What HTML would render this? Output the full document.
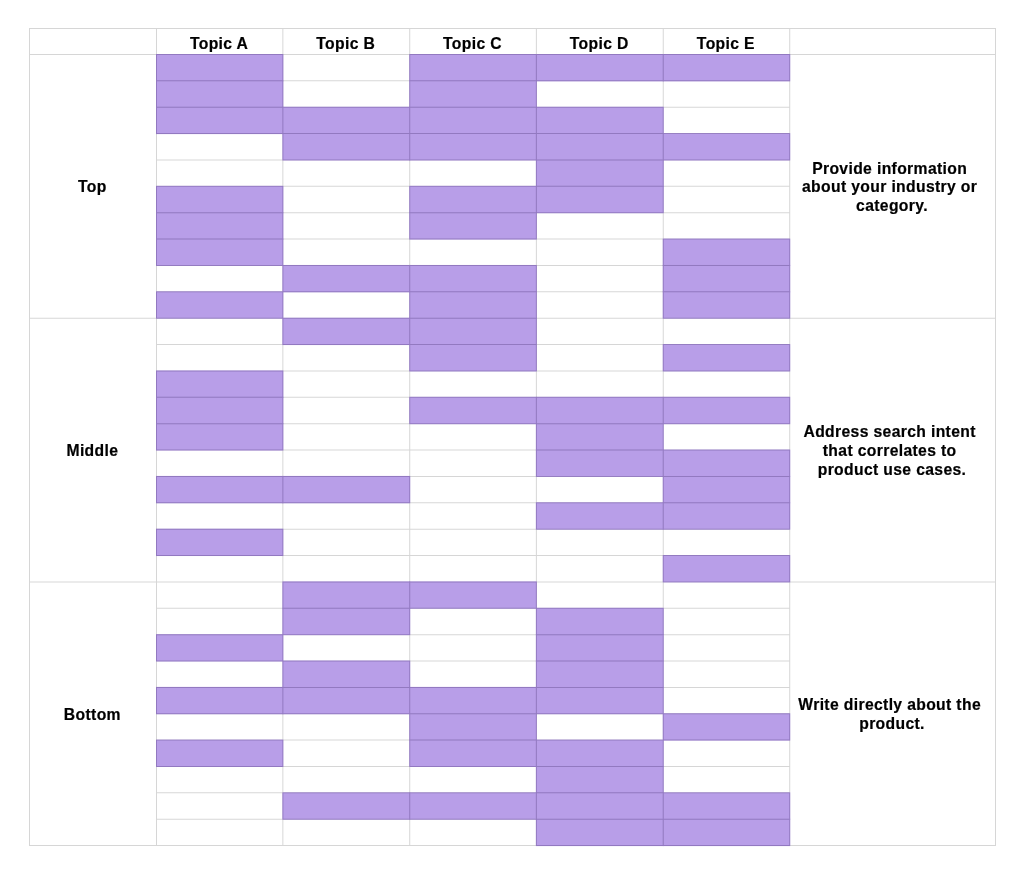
<!DOCTYPE html>
<html><head><meta charset="utf-8"><style>
html,body{margin:0;padding:0;background:#fff;width:1024px;height:875px;overflow:hidden}
svg{display:block}
text{font-family:"Liberation Sans",sans-serif;font-weight:bold;font-size:15.7px;letter-spacing:0.36px;fill:#000;stroke:#000;stroke-width:0.2px;text-anchor:middle}
</style></head><body>
<svg width="1024" height="875" viewBox="0 0 1024 875">
<g fill="#b89ee8" shape-rendering="geometricPrecision">
<rect x="156.00" y="54.00" width="127.36" height="27.37"/>
<rect x="409.22" y="54.00" width="127.66" height="27.37"/>
<rect x="535.88" y="54.00" width="127.86" height="27.37"/>
<rect x="662.74" y="54.00" width="127.48" height="27.37"/>
<rect x="156.00" y="80.37" width="127.36" height="27.37"/>
<rect x="409.22" y="80.37" width="127.66" height="27.37"/>
<rect x="156.00" y="106.74" width="127.36" height="27.37"/>
<rect x="282.36" y="106.74" width="127.86" height="27.37"/>
<rect x="409.22" y="106.74" width="127.66" height="27.37"/>
<rect x="535.88" y="106.74" width="127.86" height="27.37"/>
<rect x="282.36" y="133.11" width="127.86" height="27.37"/>
<rect x="409.22" y="133.11" width="127.66" height="27.37"/>
<rect x="535.88" y="133.11" width="127.86" height="27.37"/>
<rect x="662.74" y="133.11" width="127.48" height="27.37"/>
<rect x="535.88" y="159.48" width="127.86" height="27.37"/>
<rect x="156.00" y="185.85" width="127.36" height="27.37"/>
<rect x="409.22" y="185.85" width="127.66" height="27.37"/>
<rect x="535.88" y="185.85" width="127.86" height="27.37"/>
<rect x="156.00" y="212.22" width="127.36" height="27.37"/>
<rect x="409.22" y="212.22" width="127.66" height="27.37"/>
<rect x="156.00" y="238.59" width="127.36" height="27.37"/>
<rect x="662.74" y="238.59" width="127.48" height="27.37"/>
<rect x="282.36" y="264.96" width="127.86" height="27.37"/>
<rect x="409.22" y="264.96" width="127.66" height="27.37"/>
<rect x="662.74" y="264.96" width="127.48" height="27.37"/>
<rect x="156.00" y="291.33" width="127.36" height="27.37"/>
<rect x="409.22" y="291.33" width="127.66" height="27.37"/>
<rect x="662.74" y="291.33" width="127.48" height="27.37"/>
<rect x="282.36" y="317.70" width="127.86" height="27.37"/>
<rect x="409.22" y="317.70" width="127.66" height="27.37"/>
<rect x="409.22" y="344.07" width="127.66" height="27.37"/>
<rect x="662.74" y="344.07" width="127.48" height="27.37"/>
<rect x="156.00" y="370.44" width="127.36" height="27.37"/>
<rect x="156.00" y="396.81" width="127.36" height="27.37"/>
<rect x="409.22" y="396.81" width="127.66" height="27.37"/>
<rect x="535.88" y="396.81" width="127.86" height="27.37"/>
<rect x="662.74" y="396.81" width="127.48" height="27.37"/>
<rect x="156.00" y="423.18" width="127.36" height="27.37"/>
<rect x="535.88" y="423.18" width="127.86" height="27.37"/>
<rect x="535.88" y="449.55" width="127.86" height="27.37"/>
<rect x="662.74" y="449.55" width="127.48" height="27.37"/>
<rect x="156.00" y="475.92" width="127.36" height="27.37"/>
<rect x="282.36" y="475.92" width="127.86" height="27.37"/>
<rect x="662.74" y="475.92" width="127.48" height="27.37"/>
<rect x="535.88" y="502.29" width="127.86" height="27.37"/>
<rect x="662.74" y="502.29" width="127.48" height="27.37"/>
<rect x="156.00" y="528.66" width="127.36" height="27.37"/>
<rect x="662.74" y="555.03" width="127.48" height="27.37"/>
<rect x="282.36" y="581.40" width="127.86" height="27.37"/>
<rect x="409.22" y="581.40" width="127.66" height="27.37"/>
<rect x="282.36" y="607.77" width="127.86" height="27.37"/>
<rect x="535.88" y="607.77" width="127.86" height="27.37"/>
<rect x="156.00" y="634.14" width="127.36" height="27.37"/>
<rect x="535.88" y="634.14" width="127.86" height="27.37"/>
<rect x="282.36" y="660.51" width="127.86" height="27.37"/>
<rect x="535.88" y="660.51" width="127.86" height="27.37"/>
<rect x="156.00" y="686.88" width="127.36" height="27.37"/>
<rect x="282.36" y="686.88" width="127.86" height="27.37"/>
<rect x="409.22" y="686.88" width="127.66" height="27.37"/>
<rect x="535.88" y="686.88" width="127.86" height="27.37"/>
<rect x="409.22" y="713.25" width="127.66" height="27.37"/>
<rect x="662.74" y="713.25" width="127.48" height="27.37"/>
<rect x="156.00" y="739.62" width="127.36" height="27.37"/>
<rect x="409.22" y="739.62" width="127.66" height="27.37"/>
<rect x="535.88" y="739.62" width="127.86" height="27.37"/>
<rect x="535.88" y="765.99" width="127.86" height="27.37"/>
<rect x="282.36" y="792.36" width="127.86" height="27.37"/>
<rect x="409.22" y="792.36" width="127.66" height="27.37"/>
<rect x="535.88" y="792.36" width="127.86" height="27.37"/>
<rect x="662.74" y="792.36" width="127.48" height="27.37"/>
<rect x="535.88" y="818.73" width="127.86" height="27.37"/>
<rect x="662.74" y="818.73" width="127.48" height="27.37"/>
</g>
<path fill="rgba(0,0,0,0.16)" d="M29 28h967v1h-967zM29 54h967v1h-967zM156 80.37h634.22v1h-634.22zM156 106.74h634.22v1h-634.22zM156 133.11h634.22v1h-634.22zM156 159.48h634.22v1h-634.22zM156 185.85h634.22v1h-634.22zM156 212.22h634.22v1h-634.22zM156 238.59h634.22v1h-634.22zM156 264.96h634.22v1h-634.22zM156 291.33h634.22v1h-634.22zM29 317.7h967v1h-967zM156 344.07h634.22v1h-634.22zM156 370.44h634.22v1h-634.22zM156 396.81h634.22v1h-634.22zM156 423.18h634.22v1h-634.22zM156 449.55h634.22v1h-634.22zM156 475.92h634.22v1h-634.22zM156 502.29h634.22v1h-634.22zM156 528.66h634.22v1h-634.22zM156 555.03h634.22v1h-634.22zM29 581.4h967v1h-967zM156 607.77h634.22v1h-634.22zM156 634.14h634.22v1h-634.22zM156 660.51h634.22v1h-634.22zM156 686.88h634.22v1h-634.22zM156 713.25h634.22v1h-634.22zM156 739.62h634.22v1h-634.22zM156 765.99h634.22v1h-634.22zM156 792.36h634.22v1h-634.22zM156 818.73h634.22v1h-634.22zM29 845.1h967v1h-967zM29 28h1v818.1h-1zM156 28h1v818.1h-1zM282.36 28h1v818.1h-1zM409.22 28h1v818.1h-1zM535.88 28h1v818.1h-1zM662.74 28h1v818.1h-1zM789.22 28h1v818.1h-1zM995 28h1v818.1h-1z"/>
<path fill="rgba(60,0,180,0.08)" d="M156 54h127.36v1h-127.36zM409.22 54h127.66v1h-127.66zM535.88 54h127.86v1h-127.86zM662.74 54h127.48v1h-127.48zM156 80.37h127.36v1h-127.36zM409.22 80.37h127.66v1h-127.66zM535.88 80.37h127.86v1h-127.86zM662.74 80.37h127.48v1h-127.48zM156 106.74h127.36v1h-127.36zM282.36 106.74h127.86v1h-127.86zM409.22 106.74h127.66v1h-127.66zM535.88 106.74h127.86v1h-127.86zM156 133.11h127.36v1h-127.36zM282.36 133.11h127.86v1h-127.86zM409.22 133.11h127.66v1h-127.66zM535.88 133.11h127.86v1h-127.86zM662.74 133.11h127.48v1h-127.48zM282.36 159.48h127.86v1h-127.86zM409.22 159.48h127.66v1h-127.66zM535.88 159.48h127.86v1h-127.86zM662.74 159.48h127.48v1h-127.48zM156 185.85h127.36v1h-127.36zM409.22 185.85h127.66v1h-127.66zM535.88 185.85h127.86v1h-127.86zM156 212.22h127.36v1h-127.36zM409.22 212.22h127.66v1h-127.66zM535.88 212.22h127.86v1h-127.86zM156 238.59h127.36v1h-127.36zM409.22 238.59h127.66v1h-127.66zM662.74 238.59h127.48v1h-127.48zM156 264.96h127.36v1h-127.36zM282.36 264.96h127.86v1h-127.86zM409.22 264.96h127.66v1h-127.66zM662.74 264.96h127.48v1h-127.48zM156 291.33h127.36v1h-127.36zM282.36 291.33h127.86v1h-127.86zM409.22 291.33h127.66v1h-127.66zM662.74 291.33h127.48v1h-127.48zM156 317.7h127.36v1h-127.36zM282.36 317.7h127.86v1h-127.86zM409.22 317.7h127.66v1h-127.66zM662.74 317.7h127.48v1h-127.48zM282.36 344.07h127.86v1h-127.86zM409.22 344.07h127.66v1h-127.66zM662.74 344.07h127.48v1h-127.48zM156 370.44h127.36v1h-127.36zM409.22 370.44h127.66v1h-127.66zM662.74 370.44h127.48v1h-127.48zM156 396.81h127.36v1h-127.36zM409.22 396.81h127.66v1h-127.66zM535.88 396.81h127.86v1h-127.86zM662.74 396.81h127.48v1h-127.48zM156 423.18h127.36v1h-127.36zM409.22 423.18h127.66v1h-127.66zM535.88 423.18h127.86v1h-127.86zM662.74 423.18h127.48v1h-127.48zM156 449.55h127.36v1h-127.36zM535.88 449.55h127.86v1h-127.86zM662.74 449.55h127.48v1h-127.48zM156 475.92h127.36v1h-127.36zM282.36 475.92h127.86v1h-127.86zM535.88 475.92h127.86v1h-127.86zM662.74 475.92h127.48v1h-127.48zM156 502.29h127.36v1h-127.36zM282.36 502.29h127.86v1h-127.86zM535.88 502.29h127.86v1h-127.86zM662.74 502.29h127.48v1h-127.48zM156 528.66h127.36v1h-127.36zM535.88 528.66h127.86v1h-127.86zM662.74 528.66h127.48v1h-127.48zM156 555.03h127.36v1h-127.36zM662.74 555.03h127.48v1h-127.48zM282.36 581.4h127.86v1h-127.86zM409.22 581.4h127.66v1h-127.66zM662.74 581.4h127.48v1h-127.48zM282.36 607.77h127.86v1h-127.86zM409.22 607.77h127.66v1h-127.66zM535.88 607.77h127.86v1h-127.86zM156 634.14h127.36v1h-127.36zM282.36 634.14h127.86v1h-127.86zM535.88 634.14h127.86v1h-127.86zM156 660.51h127.36v1h-127.36zM282.36 660.51h127.86v1h-127.86zM535.88 660.51h127.86v1h-127.86zM156 686.88h127.36v1h-127.36zM282.36 686.88h127.86v1h-127.86zM409.22 686.88h127.66v1h-127.66zM535.88 686.88h127.86v1h-127.86zM156 713.25h127.36v1h-127.36zM282.36 713.25h127.86v1h-127.86zM409.22 713.25h127.66v1h-127.66zM535.88 713.25h127.86v1h-127.86zM662.74 713.25h127.48v1h-127.48zM156 739.62h127.36v1h-127.36zM409.22 739.62h127.66v1h-127.66zM535.88 739.62h127.86v1h-127.86zM662.74 739.62h127.48v1h-127.48zM156 765.99h127.36v1h-127.36zM409.22 765.99h127.66v1h-127.66zM535.88 765.99h127.86v1h-127.86zM282.36 792.36h127.86v1h-127.86zM409.22 792.36h127.66v1h-127.66zM535.88 792.36h127.86v1h-127.86zM662.74 792.36h127.48v1h-127.48zM282.36 818.73h127.86v1h-127.86zM409.22 818.73h127.66v1h-127.66zM535.88 818.73h127.86v1h-127.86zM662.74 818.73h127.48v1h-127.48zM535.88 845.1h127.86v1h-127.86zM662.74 845.1h127.48v1h-127.48zM156 54h1v27.37h-1zM282.36 54h1v27.37h-1zM409.22 54h1v27.37h-1zM535.88 54h1v27.37h-1zM662.74 54h1v27.37h-1zM789.22 54h1v27.37h-1zM156 80.37h1v27.37h-1zM282.36 80.37h1v27.37h-1zM409.22 80.37h1v27.37h-1zM535.88 80.37h1v27.37h-1zM156 106.74h1v27.37h-1zM282.36 106.74h1v27.37h-1zM409.22 106.74h1v27.37h-1zM535.88 106.74h1v27.37h-1zM662.74 106.74h1v27.37h-1zM282.36 133.11h1v27.37h-1zM409.22 133.11h1v27.37h-1zM535.88 133.11h1v27.37h-1zM662.74 133.11h1v27.37h-1zM789.22 133.11h1v27.37h-1zM535.88 159.48h1v27.37h-1zM662.74 159.48h1v27.37h-1zM156 185.85h1v27.37h-1zM282.36 185.85h1v27.37h-1zM409.22 185.85h1v27.37h-1zM535.88 185.85h1v27.37h-1zM662.74 185.85h1v27.37h-1zM156 212.22h1v27.37h-1zM282.36 212.22h1v27.37h-1zM409.22 212.22h1v27.37h-1zM535.88 212.22h1v27.37h-1zM156 238.59h1v27.37h-1zM282.36 238.59h1v27.37h-1zM662.74 238.59h1v27.37h-1zM789.22 238.59h1v27.37h-1zM282.36 264.96h1v27.37h-1zM409.22 264.96h1v27.37h-1zM535.88 264.96h1v27.37h-1zM662.74 264.96h1v27.37h-1zM789.22 264.96h1v27.37h-1zM156 291.33h1v27.37h-1zM282.36 291.33h1v27.37h-1zM409.22 291.33h1v27.37h-1zM535.88 291.33h1v27.37h-1zM662.74 291.33h1v27.37h-1zM789.22 291.33h1v27.37h-1zM282.36 317.7h1v27.37h-1zM409.22 317.7h1v27.37h-1zM535.88 317.7h1v27.37h-1zM409.22 344.07h1v27.37h-1zM535.88 344.07h1v27.37h-1zM662.74 344.07h1v27.37h-1zM789.22 344.07h1v27.37h-1zM156 370.44h1v27.37h-1zM282.36 370.44h1v27.37h-1zM156 396.81h1v27.37h-1zM282.36 396.81h1v27.37h-1zM409.22 396.81h1v27.37h-1zM535.88 396.81h1v27.37h-1zM662.74 396.81h1v27.37h-1zM789.22 396.81h1v27.37h-1zM156 423.18h1v27.37h-1zM282.36 423.18h1v27.37h-1zM535.88 423.18h1v27.37h-1zM662.74 423.18h1v27.37h-1zM535.88 449.55h1v27.37h-1zM662.74 449.55h1v27.37h-1zM789.22 449.55h1v27.37h-1zM156 475.92h1v27.37h-1zM282.36 475.92h1v27.37h-1zM409.22 475.92h1v27.37h-1zM662.74 475.92h1v27.37h-1zM789.22 475.92h1v27.37h-1zM535.88 502.29h1v27.37h-1zM662.74 502.29h1v27.37h-1zM789.22 502.29h1v27.37h-1zM156 528.66h1v27.37h-1zM282.36 528.66h1v27.37h-1zM662.74 555.03h1v27.37h-1zM789.22 555.03h1v27.37h-1zM282.36 581.4h1v27.37h-1zM409.22 581.4h1v27.37h-1zM535.88 581.4h1v27.37h-1zM282.36 607.77h1v27.37h-1zM409.22 607.77h1v27.37h-1zM535.88 607.77h1v27.37h-1zM662.74 607.77h1v27.37h-1zM156 634.14h1v27.37h-1zM282.36 634.14h1v27.37h-1zM535.88 634.14h1v27.37h-1zM662.74 634.14h1v27.37h-1zM282.36 660.51h1v27.37h-1zM409.22 660.51h1v27.37h-1zM535.88 660.51h1v27.37h-1zM662.74 660.51h1v27.37h-1zM156 686.88h1v27.37h-1zM282.36 686.88h1v27.37h-1zM409.22 686.88h1v27.37h-1zM535.88 686.88h1v27.37h-1zM662.74 686.88h1v27.37h-1zM409.22 713.25h1v27.37h-1zM535.88 713.25h1v27.37h-1zM662.74 713.25h1v27.37h-1zM789.22 713.25h1v27.37h-1zM156 739.62h1v27.37h-1zM282.36 739.62h1v27.37h-1zM409.22 739.62h1v27.37h-1zM535.88 739.62h1v27.37h-1zM662.74 739.62h1v27.37h-1zM535.88 765.99h1v27.37h-1zM662.74 765.99h1v27.37h-1zM282.36 792.36h1v27.37h-1zM409.22 792.36h1v27.37h-1zM535.88 792.36h1v27.37h-1zM662.74 792.36h1v27.37h-1zM789.22 792.36h1v27.37h-1zM535.88 818.73h1v27.37h-1zM662.74 818.73h1v27.37h-1zM789.22 818.73h1v27.37h-1z"/>
<g style="will-change:transform">
<text x="219.08" y="48.6">Topic A</text>
<text x="345.69" y="48.6">Topic B</text>
<text x="472.45" y="48.6">Topic C</text>
<text x="599.21" y="48.6">Topic D</text>
<text x="725.88" y="48.6">Topic E</text>
<text x="92.40" y="192.35">Top</text>
<text x="892.01" y="173.70">Provide information&#160;</text>
<text x="892.01" y="192.35">about your industry or&#160;</text>
<text x="892.01" y="211.00">category.</text>
<text x="92.40" y="456.05">Middle</text>
<text x="892.01" y="437.40">Address search intent&#160;</text>
<text x="892.01" y="456.05">that correlates to&#160;</text>
<text x="892.01" y="474.70">product use cases.</text>
<text x="92.40" y="719.75">Bottom</text>
<text x="892.01" y="710.42">Write directly about the&#160;</text>
<text x="892.01" y="729.08">product.</text>
</g>
</svg>
</body></html>
